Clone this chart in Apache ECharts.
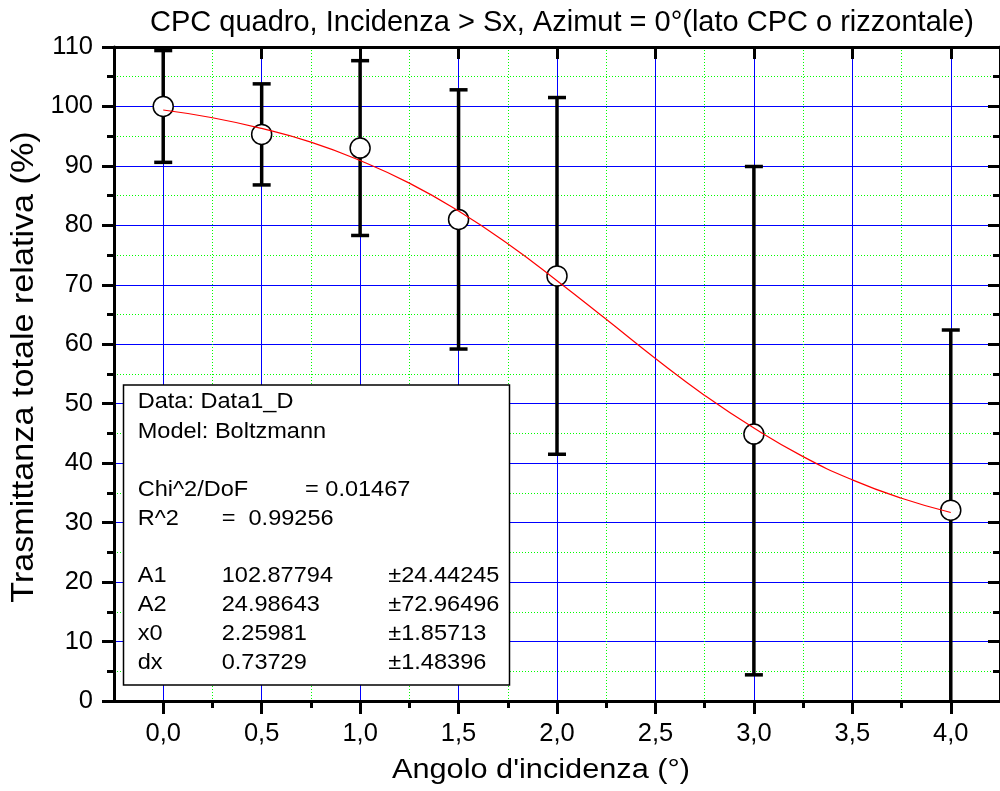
<!DOCTYPE html>
<html>
<head>
<meta charset="utf-8">
<script src="https://cdn.jsdelivr.net/npm/echarts@6/dist/echarts.min.js"></script>
<style>html,body{margin:0;padding:0;background:#fff}#c{width:1000px;height:791px}</style>
</head>
<body>
<div id="c"></div>
<script>
// ---- data ----
const angles = [0.0, 0.5, 1.0, 1.5, 2.0, 3.0, 4.0];
const transmittance = [100.0, 95.3, 93.0, 81.0, 71.5, 44.9, 32.1];
const errPlus = [9.4, 8.5, 14.7, 21.8, 30.0, 45.0, 30.3];
const errMinus = [9.4, 8.5, 14.7, 21.8, 30.0, 40.5, 35.0];
const fitX = [0, 0.25, 0.5, 0.75, 1.0, 1.25, 1.5, 1.75, 2.0, 2.25, 2.5, 2.75, 3.0, 3.25, 3.5, 3.75, 4.0];
const fitY = [99.4, 98.1, 96.3, 94.0, 90.9, 87.1, 82.4, 76.9, 70.7, 64.2, 57.6, 51.4, 45.9, 41.1, 37.2, 34.1, 31.7];
const xMajor = [0, 0.5, 1.0, 1.5, 2.0, 2.5, 3.0, 3.5, 4.0];
const xMinor = [0.25, 0.75, 1.25, 1.75, 2.25, 2.75, 3.25, 3.75];
const yMinor = [5, 15, 25, 35, 45, 55, 65, 75, 85, 95, 105];
const titleText = "CPC quadro, Incidenza > Sx, Azimut = 0°(lato CPC o rizzontale)";
const xName = "Angolo d'incidenza (°)";
const yName = "Trasmittanza totale relativa (%)";
const boxRows = [
  ["Data: Data1_D"],
  ["Model: Boltzmann"],
  [],
  ["Chi^2/DoF", "= 0.01467"],
  ["R^2", "=  0.99256"],
  [],
  ["A1", "102.87794", "±24.44245"],
  ["A2", "24.98643", "±72.96496"],
  ["x0", "2.25981", "±1.85713"],
  ["dx", "0.73729", "±1.48396"]
];

const FONT = "'Liberation Sans', Arial, sans-serif";
const chart = echarts.init(document.getElementById('c'), null, {renderer: 'canvas'});

const errData = angles.map((a, i) => [a, transmittance[i], errPlus[i], errMinus[i]]);
const ptData = angles.map((a, i) => [a, transmittance[i]]);
const fitData = fitX.map((a, i) => [a, fitY[i]]);

const TICK = {color: '#000', width: 3};
const BLUE = {color: '#0000ff', width: 1, type: 'solid'};
const GREEN = {color: '#00ff00', width: 1, type: [1, 2]};

function axisBase(extra) {
  return Object.assign({
    type: 'value', gridIndex: 0, offset: 0,
    axisLine: {show: false}, axisLabel: {show: false}, splitLine: {show: false},
    axisTick: {show: false}
  }, extra);
}
function xAx(extra) { return axisBase(Object.assign({min: -0.25, max: 4.25}, extra)); }
function yAx(extra) { return axisBase(Object.assign({min: 0, max: 110}, extra)); }

// stats box graphic
const boxGraphics = [];
boxGraphics.push({
  type: 'rect', z: 100, shape: {x: 123.5, y: 385, width: 386, height: 300},
  style: {fill: '#fff', stroke: '#000', lineWidth: 1.5}
});
const rowY = [402, 431.5, 461, 490, 519, 548, 576, 605, 634, 663];
const colX3 = [137.7, 221.7, 388.3];
boxRows.forEach((row, r) => {
  row.forEach((t, c) => {
    let x = colX3[c];
    if (row.length === 2) x = (r === 3) ? [137.7, 305][c] : [137.7, 221.7][c];
    boxGraphics.push({
      type: 'text', z: 101, x: x, y: rowY[r], scaleX: 1.07,
      style: {text: t, font: '22px ' + FONT, fill: '#000', textAlign: 'left', textVerticalAlign: 'middle'}
    });
  });
});

const option = {
  animation: false,
  backgroundColor: '#fff',
  grid: {left: 114, top: 47, width: 895, height: 654, containLabel: false},
  xAxis: [
    xAx({
      position: 'bottom',
      axisLine: {show: true, onZero: false, lineStyle: {color: '#000', width: 3}},
      axisTick: {show: true, customValues: xMajor, length: 13, lineStyle: TICK},
      axisLabel: {show: true, customValues: xMajor, margin: 20, color: '#000', fontSize: 25.5, fontFamily: FONT,
        formatter: v => v.toFixed(1).replace('.', ',')},
      splitLine: {show: true, lineStyle: BLUE}
    }),
    xAx({
      position: 'bottom',
      axisTick: {show: true, customValues: xMinor, length: 7, lineStyle: TICK},
      splitLine: {show: true, lineStyle: GREEN}
    }),
    xAx({
      position: 'top',
      axisLine: {show: true, onZero: false, lineStyle: {color: '#000', width: 3}},
      axisTick: {show: true, inside: true, customValues: xMajor, length: 12, lineStyle: TICK}
    }),
    xAx({
      position: 'top',
      axisTick: {show: true, inside: true, customValues: xMinor, length: 7, lineStyle: TICK}
    })
  ],
  yAxis: [
    yAx({
      position: 'left', interval: 10,
      axisLine: {show: true, onZero: false, lineStyle: {color: '#000', width: 3}},
      axisTick: {show: true, length: 12, lineStyle: TICK},
      minorTick: {show: true, splitNumber: 2, length: 7, lineStyle: TICK},
      axisLabel: {show: true, margin: 21, color: '#000', fontSize: 25.5, fontFamily: FONT},
      splitLine: {show: true, lineStyle: BLUE}
    }),
    yAx({
      position: 'right', interval: 10,
      axisLine: {show: true, onZero: false, lineStyle: {color: '#000', width: 3}},
      axisTick: {show: true, inside: true, length: 12, lineStyle: TICK},
      minorTick: {show: true, splitNumber: 2, length: 7, lineStyle: TICK}
    }),
    yAx({
      position: 'left',
      axisTick: {show: false, customValues: yMinor},
      splitLine: {show: true, lineStyle: GREEN}
    })
  ],
  series: [
    {
      type: 'custom', xAxisIndex: 0, yAxisIndex: 0, z: 3, clip: true,
      data: errData,
      renderItem: function (params, api) {
        const x = api.value(0), y = api.value(1), ep = api.value(2), em = api.value(3);
        const top = api.coord([x, y + ep]);
        const bot = api.coord([x, y - em]);
        const hw = 9;
        const st = {stroke: '#000', lineWidth: 3.5};
        return {
          type: 'group', children: [
            {type: 'line', shape: {x1: top[0], y1: top[1], x2: bot[0], y2: bot[1]}, style: st},
            {type: 'line', shape: {x1: top[0] - hw, y1: top[1], x2: top[0] + hw, y2: top[1]}, style: st},
            {type: 'line', shape: {x1: bot[0] - hw, y1: bot[1], x2: bot[0] + hw, y2: bot[1]}, style: st}
          ]
        };
      }
    },
    {
      type: 'scatter', xAxisIndex: 0, yAxisIndex: 0, z: 4,
      symbol: 'circle', symbolSize: 20, data: ptData,
      itemStyle: {color: '#fff', borderColor: '#000', borderWidth: 1.5, opacity: 1}
    },
    {
      type: 'line', xAxisIndex: 0, yAxisIndex: 0, z: 5,
      smooth: true, showSymbol: false, data: fitData,
      lineStyle: {color: '#ff0000', width: 1.2}
    }
  ],
  graphic: [
    {type: 'text', z: 50, x: 562, y: 22.5,
      style: {text: titleText, font: '29px ' + FONT, fill: '#000', textAlign: 'center', textVerticalAlign: 'middle'}},
    {type: 'text', z: 50, x: 541, y: 771, scaleX: 1.137,
      style: {text: xName, font: '27px ' + FONT, fill: '#000', textAlign: 'center', textVerticalAlign: 'middle'}},
    {type: 'text', z: 50, x: 25, y: 367, rotation: Math.PI / 2, scaleX: 1.12,
      style: {text: yName, font: '30.5px ' + FONT, fill: '#000', textAlign: 'center', textVerticalAlign: 'middle'}}
  ].concat(boxGraphics)
};
chart.setOption(option);
</script>
</body>
</html>
